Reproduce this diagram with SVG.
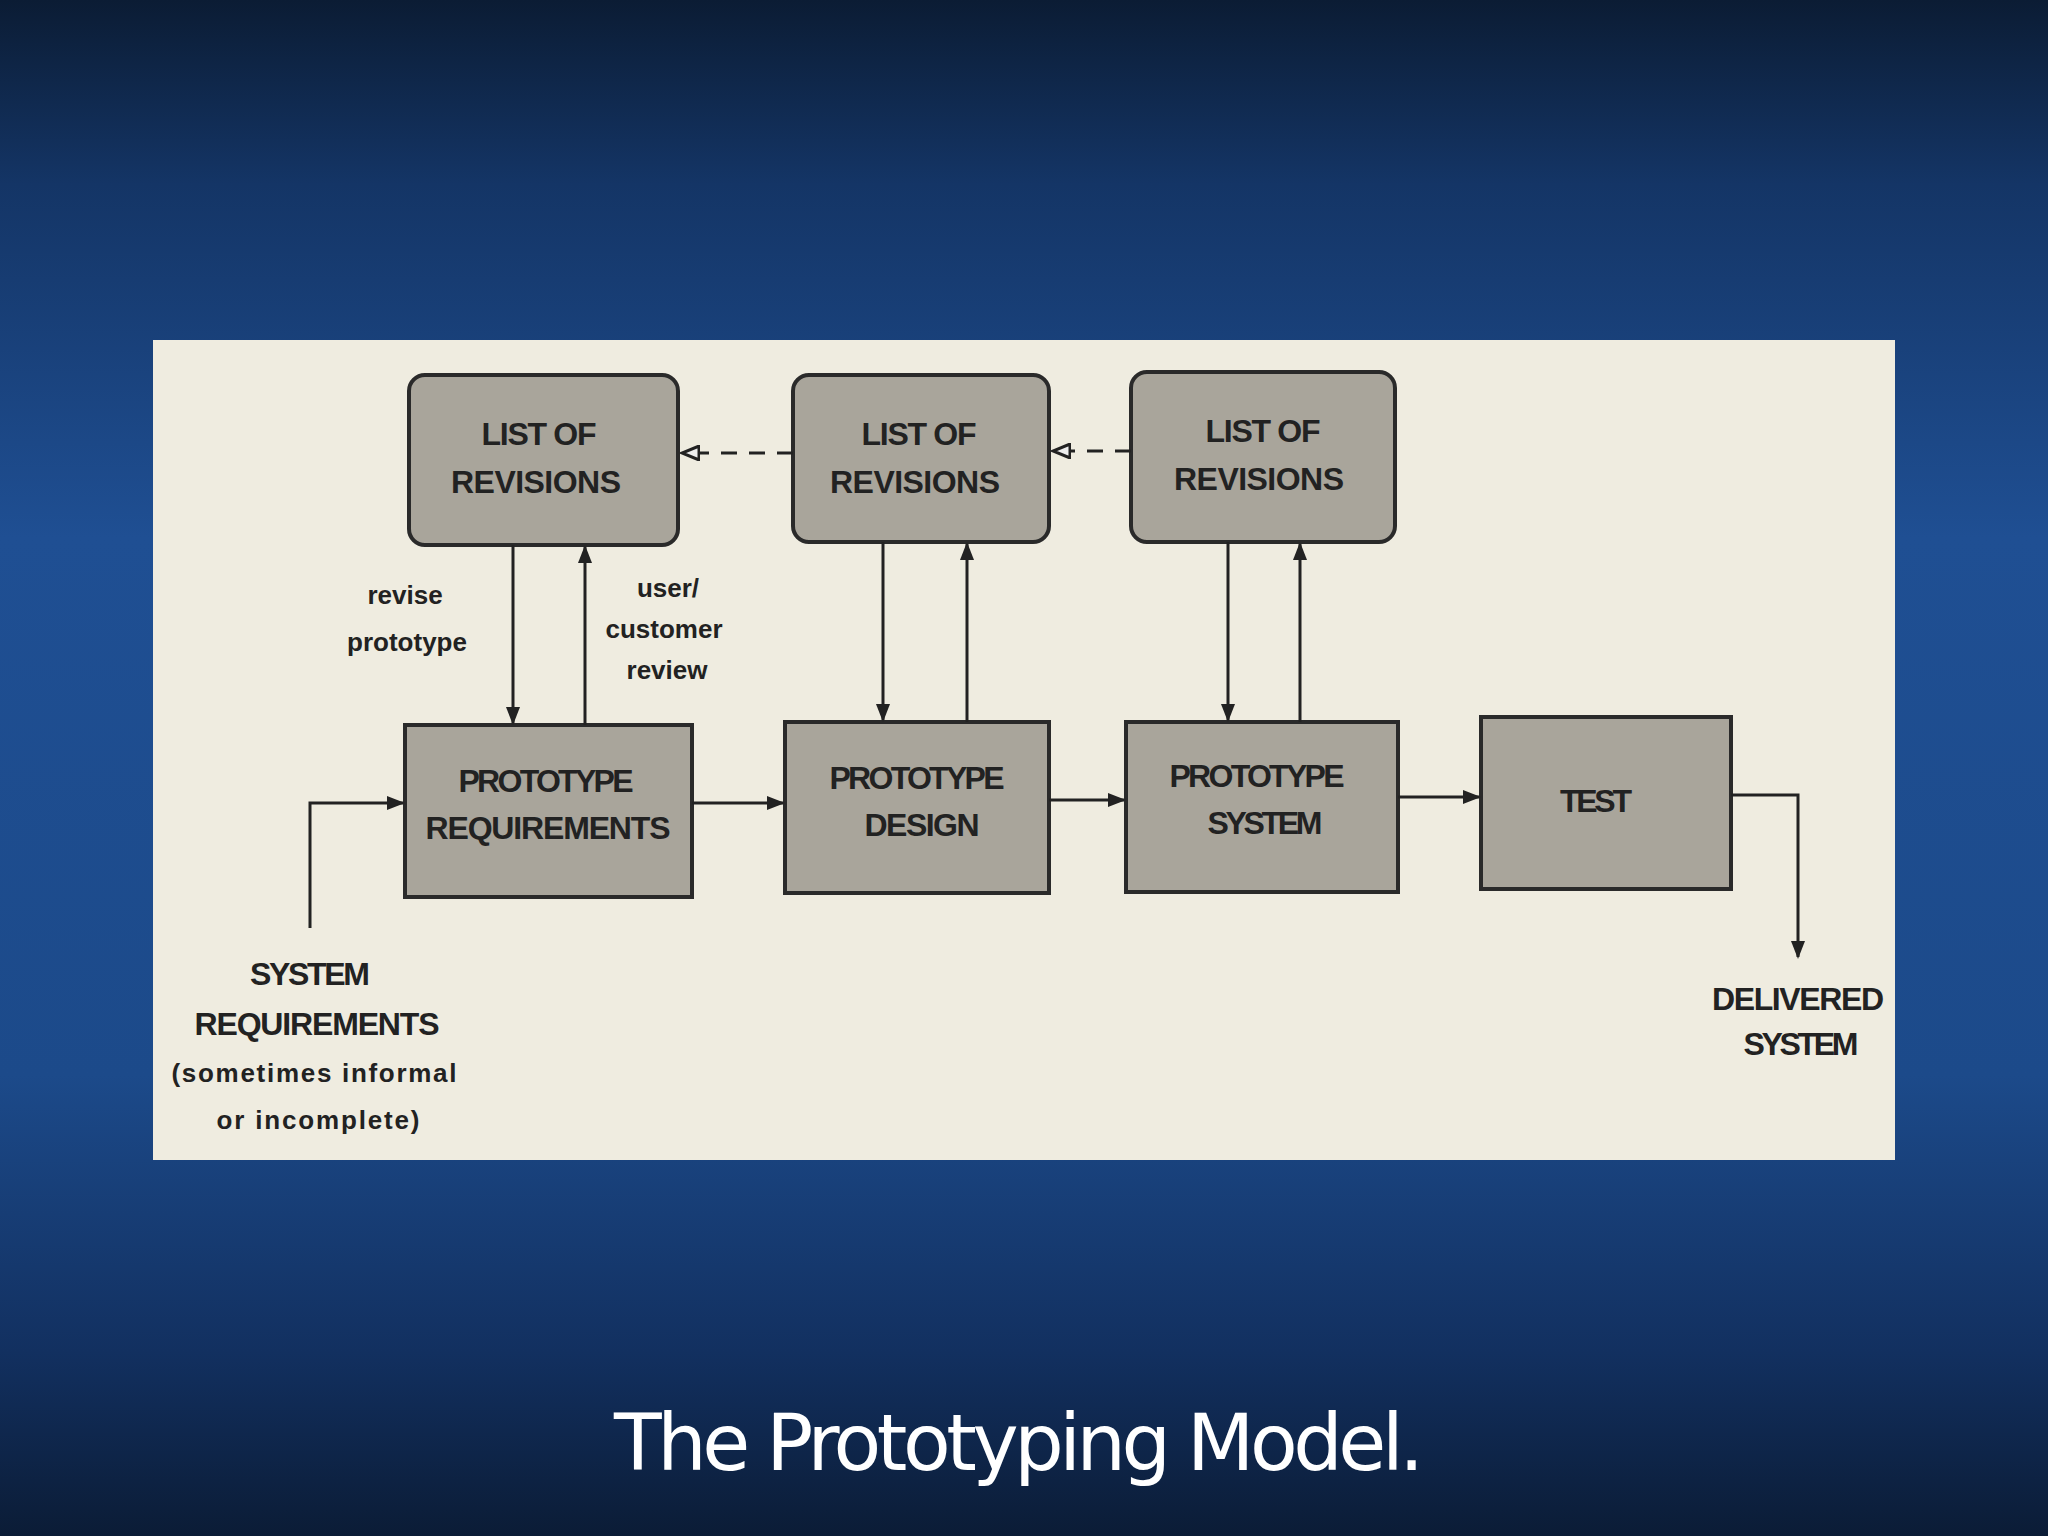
<svg xmlns="http://www.w3.org/2000/svg" width="2048" height="1536" viewBox="0 0 2048 1536">
<defs>
<linearGradient id="bg" x1="0" y1="0" x2="0" y2="1">
<stop offset="0" stop-color="#0b1c34"/><stop offset="0.12" stop-color="#143566"/><stop offset="0.35" stop-color="#1f4f93"/><stop offset="0.7" stop-color="#1c4a8a"/><stop offset="0.88" stop-color="#123060"/><stop offset="1" stop-color="#0b1c36"/>
</linearGradient>
<marker id="ah" markerWidth="18" markerHeight="14" refX="16" refY="7" orient="auto" markerUnits="userSpaceOnUse"><path d="M0,0 L18,7 L0,14 z" fill="#222"/></marker>
<marker id="ah2" markerWidth="20" markerHeight="16" refX="18" refY="8" orient="auto" markerUnits="userSpaceOnUse"><path d="M1,1 L18,8 L1,15 z" fill="#eee" stroke="#222" stroke-width="3"/></marker>
<style>
.box{fill:#a9a59b;stroke:#2a2a2a;stroke-width:4}
.bt{font-family:"Liberation Sans",sans-serif;font-weight:bold;font-size:32px;fill:#222;text-anchor:middle}
.lt{font-family:"Liberation Sans",sans-serif;font-weight:bold;font-size:26px;fill:#222;text-anchor:middle}
.c{stroke:#222;stroke-width:3;fill:none;marker-end:url(#ah)}
</style>
</defs>
<rect width="2048" height="1536" fill="url(#bg)"/>
<rect x="153" y="340" width="1742" height="820" fill="#efece0"/>
<g id="lr1"><rect class="box" x="409" y="375" width="269" height="170" rx="16"/><text class="bt" x="539" y="445" textLength="115">LIST OF</text><text class="bt" x="536" y="493" textLength="170">REVISIONS</text></g>
<g id="lr2"><rect class="box" x="793" y="375" width="256" height="167" rx="16"/><text class="bt" x="919" y="445" textLength="115">LIST OF</text><text class="bt" x="915" y="493" textLength="170">REVISIONS</text></g>
<g id="lr3"><rect class="box" x="1131" y="372" width="264" height="170" rx="16"/><text class="bt" x="1263" y="442" textLength="115">LIST OF</text><text class="bt" x="1259" y="490" textLength="170">REVISIONS</text></g>
<g id="pr"><rect class="box" x="405" y="725" width="287" height="172"/><text class="bt" x="546" y="792" textLength="175">PROTOTYPE</text><text class="bt" x="548" y="839" textLength="245">REQUIREMENTS</text></g>
<g id="pd"><rect class="box" x="785" y="722" width="264" height="171"/><text class="bt" x="917" y="789" textLength="175">PROTOTYPE</text><text class="bt" x="922" y="836" textLength="115">DESIGN</text></g>
<g id="ps"><rect class="box" x="1126" y="722" width="272" height="170"/><text class="bt" x="1257" y="787" textLength="175">PROTOTYPE</text><text class="bt" x="1265" y="834" textLength="115">SYSTEM</text></g>
<g id="test"><rect class="box" x="1481" y="717" width="250" height="172"/><text class="bt" x="1596" y="812" textLength="72">TEST</text></g>
<g id="connectors">
<line class="c" x1="513" y1="545" x2="513" y2="723"/>
<line class="c" x1="585" y1="725" x2="585" y2="547"/>
<line class="c" x1="883" y1="542" x2="883" y2="720"/>
<line class="c" x1="967" y1="722" x2="967" y2="544"/>
<line class="c" x1="1228" y1="542" x2="1228" y2="720"/>
<line class="c" x1="1300" y1="722" x2="1300" y2="544"/>
<line class="c" x1="692" y1="803" x2="783" y2="803"/>
<line class="c" x1="1049" y1="800" x2="1124" y2="800"/>
<line class="c" x1="1398" y1="797" x2="1479" y2="797"/>
<polyline class="c" points="310,928 310,803 403,803"/>
<polyline class="c" points="1731,795 1798,795 1798,957"/>
<line x1="793" y1="453" x2="682" y2="453" stroke="#222" stroke-width="3" stroke-dasharray="16,12" marker-end="url(#ah2)"/>
<line x1="1131" y1="451" x2="1053" y2="451" stroke="#222" stroke-width="3" stroke-dasharray="16,12" marker-end="url(#ah2)"/>
</g>
<g id="labels">
<text class="lt" x="405" y="604">revise</text><text class="lt" x="407" y="651">prototype</text>
<text class="lt" x="668" y="597">user/</text><text class="lt" x="664" y="638">customer</text><text class="lt" x="667" y="679">review</text>
<text class="bt" x="310" y="985" textLength="120">SYSTEM</text><text class="bt" x="317" y="1035" textLength="245">REQUIREMENTS</text>
<text class="lt" x="314" y="1082" textLength="285">(sometimes informal</text><text class="lt" x="318" y="1129" textLength="203">or incomplete)</text>
<text class="bt" x="1798" y="1010" textLength="172">DELIVERED</text><text class="bt" x="1801" y="1055" textLength="115">SYSTEM</text>
</g>
<text x="1019" y="1470" font-family="DejaVu Sans,sans-serif" font-size="78" fill="#fff" text-anchor="middle" textLength="810">The Prototyping Model.</text>
</svg>
